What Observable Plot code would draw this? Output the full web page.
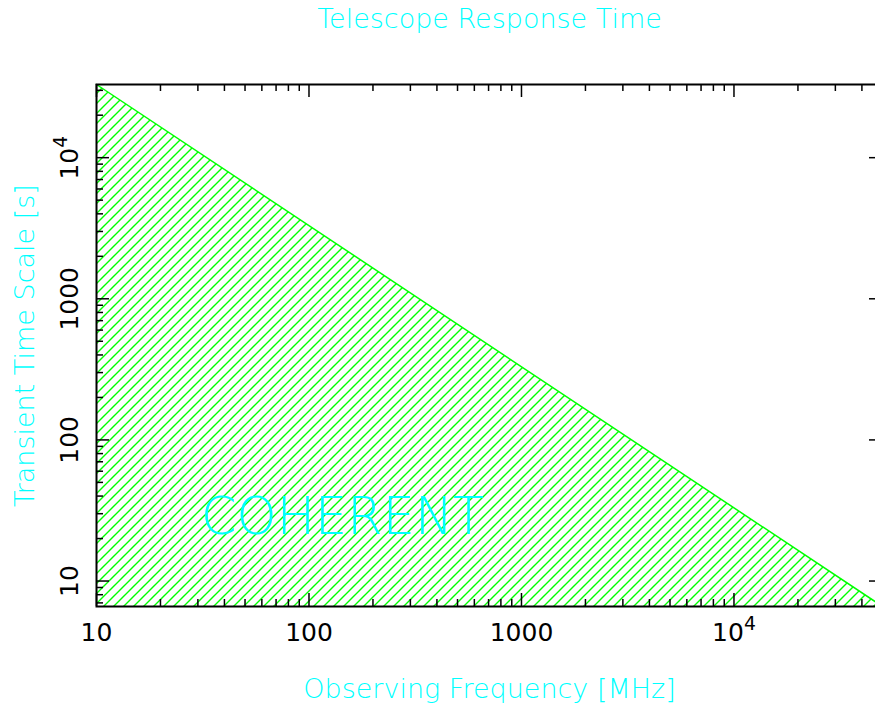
<!DOCTYPE html>
<html>
<head>
<meta charset="utf-8">
<script src="https://cdn.jsdelivr.net/npm/d3@7"></script>
<script src="https://cdn.jsdelivr.net/npm/@observablehq/plot@0.6"></script>
<style>
  html, body { margin: 0; padding: 0; background: #ffffff; overflow: hidden; }
  #chart svg { display: block; }
</style>
</head>
<body>
<div id="chart"></div>
<script>
// ---- data ----
const title = "Telescope Response Time";
const xTitle = "Observing Frequency [MHz]";
const yTitle = "Transient Time Scale [s]";
const regionLabel = "COHERENT";

const freqDomain = [10, 50000];          // MHz
const timeDomain = [6.6, 33000];         // s

// boundary of the coherent region (time limit vs frequency)
const edgeFreq = [10, 50000];
const edgeTime = [33000, 6.6];

const labelPos = {freq: 31, time: 28};

const xMajor = [10, 100, 1000, 10000];
const xMajorLabels = ["10", "100", "1000", "10^4"];
const yMajor = [10, 100, 1000, 10000];
const yMajorLabels = ["10", "100", "1000", "10^4"];

const xMinor = [20,30,40,50,60,70,80,90, 200,300,400,500,600,700,800,900,
  2000,3000,4000,5000,6000,7000,8000,9000, 20000,30000,40000,50000];
const yMinor = [7,8,9, 20,30,40,50,60,70,80,90, 200,300,400,500,600,700,800,900,
  2000,3000,4000,5000,6000,7000,8000,9000, 20000,30000];

// ---- drawing ----
const W = 875, H = 704;
const mL = 96, mT = 84, mB = 98, mR = -7;
const innerH = H - mT - mB, innerW = W - mL - mR;
const majorLen = 13, minorLen = 7;
const cyan = "#00ffff", green = "#00ff00";

const edge = edgeFreq.map((f, i) => ({f, t: edgeTime[i]}));
const xLab = xMajor.map((v, i) => ({v, s: xMajorLabels[i]}));
const yLab = yMajor.map((v, i) => ({v, s: yMajorLabels[i]}));

const tickStyle = {stroke: "black", strokeWidth: 1.5};
const titleStyle = {lineAnchor: "middle", textAnchor: "middle", fontSize: 27, fill: cyan, fontWeight: 300};

const chart = Plot.plot({
  width: W, height: H,
  marginLeft: mL, marginTop: mT, marginBottom: mB, marginRight: mR,
  style: {fontFamily: "DejaVu Sans", background: "white", overflow: "visible"},
  x: {type: "log", domain: freqDomain, axis: null},
  y: {type: "log", domain: timeDomain, axis: null},
  marks: [
    Plot.areaY(edge, {x: "f", y1: timeDomain[0], y2: "t", fill: "url(#hatch)", curve: "linear"}),
    Plot.line(edge, {x: "f", y: "t", stroke: green, strokeWidth: 1.5}),
    // ticks inside the frame on all four sides
    Plot.tickX(xMajor, {x: d => d, insetTop: innerH - majorLen, ...tickStyle}),
    Plot.tickX(xMinor, {x: d => d, insetTop: innerH - minorLen, ...tickStyle}),
    Plot.tickX(xMajor, {x: d => d, insetBottom: innerH - majorLen, ...tickStyle}),
    Plot.tickX(xMinor, {x: d => d, insetBottom: innerH - minorLen, ...tickStyle}),
    Plot.tickY(yMajor, {y: d => d, insetRight: innerW - majorLen, ...tickStyle}),
    Plot.tickY(yMinor, {y: d => d, insetRight: innerW - minorLen, ...tickStyle}),
    Plot.tickY(yMajor, {y: d => d, insetLeft: innerW - majorLen, ...tickStyle}),
    Plot.tickY(yMinor, {y: d => d, insetLeft: innerW - minorLen, ...tickStyle}),
    Plot.frame({stroke: "black", strokeWidth: 2}),
    // tick labels
    Plot.text(xLab, {x: "v", text: "s", frameAnchor: "bottom", dy: 26, lineAnchor: "middle", textAnchor: "middle",
      fontSize: 25, fill: "black", className: "ticklab"}),
    Plot.text(yLab, {y: "v", text: "s", frameAnchor: "left", dx: -27, rotate: -90, lineAnchor: "middle", textAnchor: "middle",
      fontSize: 25, fill: "black", className: "ticklab"}),
    // titles
    Plot.text([title], {frameAnchor: "top", dy: -65, ...titleStyle}),
    Plot.text([xTitle], {frameAnchor: "bottom", dy: 83, ...titleStyle}),
    Plot.text([yTitle], {frameAnchor: "left", dx: -71, rotate: -90, ...titleStyle}),
    Plot.text([labelPos], {x: "freq", y: "time", text: () => regionLabel, textAnchor: "start", lineAnchor: "middle",
      fontSize: 51, fill: cyan, fontWeight: 200})
  ]
});

// hatch pattern
const ns = "http://www.w3.org/2000/svg";
const defs = document.createElementNS(ns, "defs");
const pat = document.createElementNS(ns, "pattern");
pat.setAttribute("id", "hatch");
pat.setAttribute("patternUnits", "userSpaceOnUse");
pat.setAttribute("width", 10);
pat.setAttribute("height", 10);
const p = document.createElementNS(ns, "path");
p.setAttribute("d", "M-1,1 L1,-1 M0,10 L10,0 M9,11 L11,9");
p.setAttribute("stroke", green);
p.setAttribute("stroke-width", 1.4);
pat.appendChild(p);
defs.appendChild(pat);
chart.insertBefore(defs, chart.firstChild);

// superscripts for 10^4
chart.querySelectorAll("g.ticklab text").forEach(t => {
  const s = t.textContent;
  if (s.includes("^")) {
    const [base, exp] = s.split("^");
    t.textContent = "";
    const a = document.createElementNS(ns, "tspan");
    a.textContent = base;
    const b = document.createElementNS(ns, "tspan");
    b.textContent = exp;
    b.setAttribute("dy", "-0.55em");
    b.setAttribute("font-size", "0.75em");
    t.appendChild(a); t.appendChild(b);
  }
});

document.getElementById("chart").appendChild(chart);
</script>
</body>
</html>
